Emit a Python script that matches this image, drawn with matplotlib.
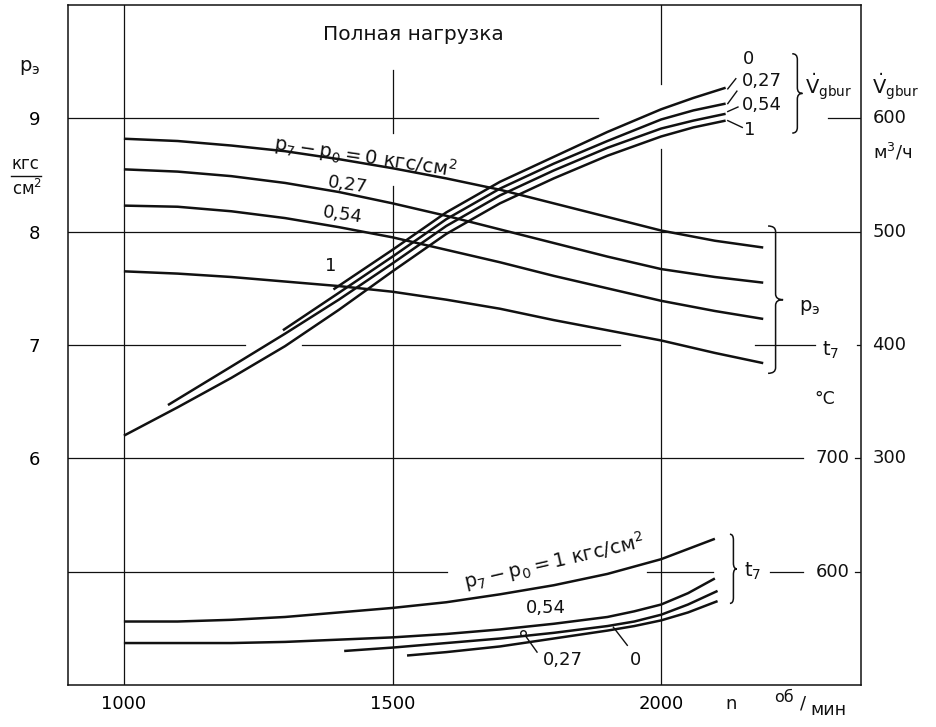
import numpy as np
import matplotlib
matplotlib.use("Agg")
import matplotlib.pyplot as plt
from matplotlib.path import Path
from matplotlib.patches import PathPatch

plt.rcParams['font.family'] = ['DejaVu Sans']
plt.rcParams['mathtext.default'] = 'regular'

# --- data ---
# p_e curves (left axis, kgf/cm2) for p7-p0 = 0, 0.27, 0.54, 1
n_pe = [1000, 1100, 1200, 1300, 1400, 1500, 1600, 1700, 1800, 1900, 2000, 2100, 2190]
pe_0 = [8.82, 8.80, 8.76, 8.71, 8.64, 8.56, 8.47, 8.37, 8.25, 8.13, 8.01, 7.92, 7.86]
pe_027 = [8.55, 8.53, 8.49, 8.43, 8.35, 8.25, 8.14, 8.02, 7.90, 7.78, 7.67, 7.60, 7.55]
pe_054 = [8.23, 8.22, 8.18, 8.12, 8.04, 7.95, 7.84, 7.73, 7.61, 7.50, 7.39, 7.30, 7.23]
pe_1 = [7.65, 7.63, 7.60, 7.56, 7.52, 7.47, 7.40, 7.32, 7.22, 7.13, 7.04, 6.93, 6.84]

# V_gbur curves (m3/h)
v_n_0 = [1390, 1500, 1600, 1700, 1800, 1900, 2000, 2060, 2120]
v_0 = [449, 484, 517, 544, 566, 588, 608, 618, 627]
v_n_027 = [1296, 1400, 1500, 1600, 1700, 1800, 1900, 2000, 2060, 2120]
v_027 = [413, 446, 478, 511, 538, 560, 580, 599, 607, 613]
v_n_054 = [1082, 1200, 1300, 1400, 1500, 1600, 1700, 1800, 1900, 2000, 2060, 2120]
v_054 = [347, 381, 410, 440, 472, 505, 532, 554, 574, 591, 598, 604]
v_n_1 = [1000, 1100, 1200, 1300, 1400, 1500, 1600, 1700, 1800, 1900, 2000, 2060, 2120]
v_1 = [320, 345, 371, 399, 431, 465, 498, 525, 547, 567, 584, 592, 598]

# t7 curves (deg C)
t_n_1 = [1000, 1100, 1200, 1300, 1400, 1500, 1600, 1700, 1800, 1900, 2000, 2050, 2100]
t_1 = [556, 556, 557.5, 560, 564, 568, 573, 580, 588, 598, 611, 620, 629]
t_n_054 = [1000, 1100, 1200, 1300, 1400, 1500, 1600, 1700, 1800, 1900, 1950, 2000, 2050, 2100]
t_054 = [537, 537, 537, 538, 540, 542, 545, 549, 554, 560, 565, 571, 581, 594]
t_n_027 = [1410, 1500, 1600, 1700, 1800, 1900, 1950, 2000, 2050, 2105]
t_027 = [530, 533, 537, 541, 546, 552, 556, 562, 571, 583]
t_n_0 = [1527, 1600, 1700, 1800, 1900, 1950, 2000, 2050, 2105]
t_0 = [526, 529, 534, 541, 548, 552, 557, 564, 574]

x_ticks = [1000, 1500, 2000]
pe_ticks = [6, 7, 8, 9]
v_ticks = [300, 400, 500, 600]
t_ticks = [600, 700]

ink = '#111111'
lw_curve = 1.8
lw_grid = 0.9

fig = plt.figure(figsize=(9.37, 7.27), dpi=100)
ax = fig.add_axes([0.0726, 0.0578, 0.8463, 0.9353])
ax.set_xlim(896, 2372)
ax.set_ylim(4, 10)

ax_v = ax.twinx()
ax_v.set_ylim(100, 700)
ax_v.set_axis_off()
ax_t = ax.twinx()
ax_t.set_ylim(500, 1100)
ax_t.set_axis_off()

for s in ax.spines.values():
    s.set_linewidth(1.1)
    s.set_color(ink)

ax.set_xticks(x_ticks)
ax.set_xticklabels([str(v) for v in x_ticks], fontsize=13)
ax.set_yticks(pe_ticks)
ax.set_yticklabels([str(v) for v in pe_ticks], fontsize=13)
ax.tick_params(axis='x', length=0, pad=7)
ax.tick_params(axis='y', length=0, pad=20)

# broken grid lines as in the drawing
hgrid = [
    (9, [(896, 1883), (2311, 2372)]),
    (8, [(896, 2372)]),
    (7, [(896, 1225), (1331, 1924), (2175, 2287), (2365, 2372)]),
    (6, [(896, 2264), (2360, 2372)]),
    (5, [(896, 1601), (1974, 2097), (2203, 2264), (2360, 2372)]),
]
for yv, segs in hgrid:
    for a, b in segs:
        ax.plot([a, b], [yv, yv], color=ink, lw=lw_grid)
vgrid = [
    (1000, [(4, 10)]),
    (1500, [(4, 8.40), (8.87, 9.43)]),
    (2000, [(4, 8.73), (9.30, 10)]),
]
for xv, segs in vgrid:
    for a, b in segs:
        ax.plot([xv, xv], [a, b], color=ink, lw=lw_grid)

# curves
for ys in (pe_0, pe_027, pe_054, pe_1):
    ax.plot(n_pe, ys, color=ink, lw=lw_curve, solid_capstyle='butt', solid_joinstyle='round')
for xs, ys in ((v_n_0, v_0), (v_n_027, v_027), (v_n_054, v_054), (v_n_1, v_1)):
    ax_v.plot(xs, ys, color=ink, lw=lw_curve, solid_capstyle='butt', solid_joinstyle='round')
for xs, ys in ((t_n_1, t_1), (t_n_054, t_054), (t_n_027, t_027), (t_n_0, t_0)):
    ax_t.plot(xs, ys, color=ink, lw=lw_curve, solid_capstyle='butt', solid_joinstyle='round')


def brace(x, y0, y1, w, r=0.05):
    ym = (y0 + y1) / 2
    xm = x + w / 2
    verts = [(x, y1), (xm, y1), (xm, y1 - r), (xm, ym + r),
             (xm, ym), (x + w, ym), (xm, ym), (xm, ym - r),
             (xm, y0 + r), (xm, y0), (x, y0)]
    codes = [Path.MOVETO, Path.CURVE3, Path.CURVE3, Path.LINETO,
             Path.CURVE3, Path.CURVE3, Path.CURVE3, Path.CURVE3,
             Path.LINETO, Path.CURVE3, Path.CURVE3]
    ax.add_patch(PathPatch(Path(verts, codes), fill=False, ec=ink, lw=1.1, clip_on=False))


brace(2244, 8.87, 9.57, 19)
brace(2199, 6.75, 8.05, 28)
brace(2128, 4.72, 5.33, 13)

fs = 13
tk = dict(color=ink, clip_on=False)
ax.text(1538, 9.74, 'Полная нагрузка', fontsize=14.5, ha='center', va='center', **tk)

# left axis caption
ax.text(825, 9.45, '$p_{э}$', fontsize=14, ha='center', va='center', **tk)
ax.text(816, 8.60, 'кгс', fontsize=12, ha='center', va='center', **tk)
ax.plot([790, 845], [8.49, 8.49], color=ink, lw=1, clip_on=False)
ax.text(819, 8.38, 'см$^2$', fontsize=12, ha='center', va='center', **tk)

# bottom axis caption
ax.text(2130, 3.83, 'n', fontsize=13, ha='center', va='center', **tk)
ax.text(2229, 3.89, 'об', fontsize=11.5, ha='center', va='center', **tk)
ax.text(2264, 3.84, '/', fontsize=13, ha='center', va='center', **tk)
ax.text(2312, 3.78, 'мин', fontsize=12.5, ha='center', va='center', **tk)

# right axis labels
for v in v_ticks:
    ax_v.text(2393, v, str(v), fontsize=13, ha='left', va='center', **tk)
for t in t_ticks:
    ax_t.text(2287, t, str(t), fontsize=13, ha='left', va='center', **tk)
ax.text(2393, 9.27, r'$\dot{V}_{gbur}$', fontsize=14, ha='left', va='center', **tk)
ax.text(2395, 8.70, 'м$^3$/ч', fontsize=13, ha='left', va='center', **tk)
ax.text(2305, 6.52, '°C', fontsize=12.5, ha='center', va='center', **tk)
ax.text(2300, 6.95, '$t_7$', fontsize=14, ha='left', va='center', **tk)
ax.text(2268, 9.27, r'$\dot{V}_{gbur}$', fontsize=14, ha='left', va='center', **tk)
ax.text(2277, 7.33, '$p_{э}$', fontsize=14, ha='center', va='center', **tk)
ax.text(2154, 5.0, '$t_7$', fontsize=14, ha='left', va='center', **tk)

# p_e curve labels
ax.text(1449, 8.66, '$p_7 - p_0 = 0$ кгс/см$^2$', fontsize=14, rotation=-8.5,
        ha='center', va='center', rotation_mode='anchor', **tk)
ax.text(1417, 8.41, '0,27', fontsize=fs, rotation=-8, ha='center', va='center', **tk)
ax.text(1408, 8.15, '0,54', fontsize=fs, rotation=-8, ha='center', va='center', **tk)
ax.text(1384, 7.70, '1', fontsize=fs, ha='center', va='center', **tk)

# V curve labels with leaders
ax.text(2162, 9.52, '0', fontsize=fs, ha='center', va='center', **tk)
ax.text(2150, 9.33, '0,27', fontsize=fs, ha='left', va='center', **tk)
ax.text(2150, 9.12, '0,54', fontsize=fs, ha='left', va='center', **tk)
ax.text(2155, 8.90, '1', fontsize=fs, ha='left', va='center', **tk)
leaders_v = [((2124, 2139), (9.26, 9.35)), ((2124, 2141), (9.13, 9.24)),
             ((2124, 2143), (9.06, 9.10)), ((2124, 2151), (8.98, 8.92))]
for xs, ys in leaders_v:
    ax.plot(xs, ys, color=ink, lw=1)

# t7 curve labels
ax.text(1800, 5.09, '$p_7 - p_0 = 1$ кгс/см$^2$', fontsize=14, rotation=13,
        ha='center', va='center', rotation_mode='anchor', **tk)
ax.text(1786, 4.68, '0,54', fontsize=fs, ha='center', va='center', **tk)
ax.text(1817, 4.22, '0,27', fontsize=fs, ha='center', va='center', **tk)
ax.text(1953, 4.22, '0', fontsize=fs, ha='center', va='center', **tk)
ax.plot([1745, 1769], [4.45, 4.29], color=ink, lw=1)
ax.plot([1743], [4.46], marker='o', ms=4, mfc='white', mec=ink, mew=1)
ax.plot([1911, 1937], [4.51, 4.35], color=ink, lw=1)

fig.savefig('out.png', dpi=100)
